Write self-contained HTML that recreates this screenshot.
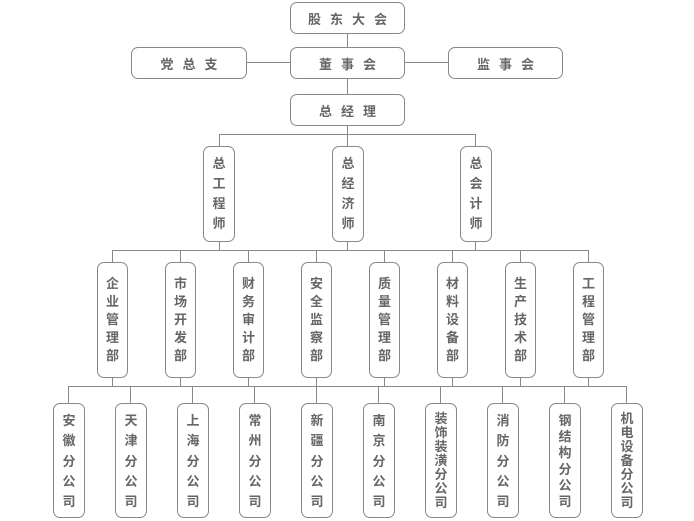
<!DOCTYPE html>
<html><head><meta charset="utf-8"><style>
body{margin:0;width:694px;height:521px;background:#fff;position:relative;overflow:hidden;font-family:"Liberation Sans","Noto Sans CJK SC",sans-serif;color:#666;font-weight:bold;font-size:13px}
.b{position:absolute;border:1.3px solid #888;border-radius:7px;box-sizing:border-box;background:#fff}
.h{display:flex;align-items:center;justify-content:center;letter-spacing:9px;padding-left:9px}
.v{display:flex;flex-direction:column;align-items:center;justify-content:space-between;line-height:14px}
.l{position:absolute;background:#888}
</style></head><body>
<!-- lines -->
<div class="l" style="left:347px;top:33px;width:1.3px;height:61px"></div>
<div class="l" style="left:247px;top:62px;width:44px;height:1.3px"></div>
<div class="l" style="left:405px;top:62px;width:43px;height:1.3px"></div>
<div class="l" style="left:347px;top:125px;width:1.3px;height:9px"></div>
<div class="l" style="left:219px;top:134px;width:257px;height:1.3px"></div>
<div class="l" style="left:219px;top:134px;width:1.3px;height:12px"></div>
<div class="l" style="left:347px;top:134px;width:1.3px;height:12px"></div>
<div class="l" style="left:475px;top:134px;width:1.3px;height:12px"></div>
<div class="l" style="left:219px;top:241px;width:1.3px;height:9px"></div>
<div class="l" style="left:347px;top:241px;width:1.3px;height:9px"></div>
<div class="l" style="left:475px;top:241px;width:1.3px;height:9px"></div>
<div class="l" style="left:112px;top:250px;width:477px;height:1.3px"></div>
<div class="l" style="left:68px;top:386px;width:559px;height:1.3px"></div>
<!-- dept verticals -->
<div class="l" style="left:112px;top:250px;width:1.3px;height:136px"></div>
<div class="l" style="left:180px;top:250px;width:1.3px;height:136px"></div>
<div class="l" style="left:248px;top:250px;width:1.3px;height:136px"></div>
<div class="l" style="left:316px;top:250px;width:1.3px;height:136px"></div>
<div class="l" style="left:384px;top:250px;width:1.3px;height:136px"></div>
<div class="l" style="left:452px;top:250px;width:1.3px;height:136px"></div>
<div class="l" style="left:520px;top:250px;width:1.3px;height:136px"></div>
<div class="l" style="left:588px;top:250px;width:1.3px;height:136px"></div>
<!-- company verticals -->
<div class="l" style="left:68px;top:386px;width:1.3px;height:17px"></div>
<div class="l" style="left:130px;top:386px;width:1.3px;height:17px"></div>
<div class="l" style="left:192px;top:386px;width:1.3px;height:17px"></div>
<div class="l" style="left:254px;top:386px;width:1.3px;height:17px"></div>
<div class="l" style="left:316px;top:386px;width:1.3px;height:17px"></div>
<div class="l" style="left:378px;top:386px;width:1.3px;height:17px"></div>
<div class="l" style="left:440px;top:386px;width:1.3px;height:17px"></div>
<div class="l" style="left:502px;top:386px;width:1.3px;height:17px"></div>
<div class="l" style="left:564px;top:386px;width:1.3px;height:17px"></div>
<div class="l" style="left:626px;top:386px;width:1.3px;height:17px"></div>

<div class="b h" style="left:290px;top:2px;width:115px;height:32px">股东大会</div>
<div class="b h" style="left:131px;top:47px;width:116px;height:32px">党总支</div>
<div class="b h" style="left:290px;top:47px;width:115px;height:32px">董事会</div>
<div class="b h" style="left:448px;top:47px;width:115px;height:32px">监事会</div>
<div class="b h" style="left:290px;top:94px;width:115px;height:32px">总经理</div>

<div class="b v" style="left:203px;top:146px;width:32px;height:96px;padding:10px 0 10px"><span>总</span><span>工</span><span>程</span><span>师</span></div>
<div class="b v" style="left:332px;top:146px;width:32px;height:96px;padding:10px 0 10px"><span>总</span><span>经</span><span>济</span><span>师</span></div>
<div class="b v" style="left:460px;top:146px;width:32px;height:96px;padding:10px 0 10px"><span>总</span><span>会</span><span>计</span><span>师</span></div>

<div class="b v" style="left:97px;top:262px;width:31px;height:116px;padding:14px 0 14px"><span>企</span><span>业</span><span>管</span><span>理</span><span>部</span></div>
<div class="b v" style="left:165px;top:262px;width:31px;height:116px;padding:14px 0 14px"><span>市</span><span>场</span><span>开</span><span>发</span><span>部</span></div>
<div class="b v" style="left:233px;top:262px;width:31px;height:116px;padding:14px 0 14px"><span>财</span><span>务</span><span>审</span><span>计</span><span>部</span></div>
<div class="b v" style="left:301px;top:262px;width:31px;height:116px;padding:14px 0 14px"><span>安</span><span>全</span><span>监</span><span>察</span><span>部</span></div>
<div class="b v" style="left:369px;top:262px;width:31px;height:116px;padding:14px 0 14px"><span>质</span><span>量</span><span>管</span><span>理</span><span>部</span></div>
<div class="b v" style="left:437px;top:262px;width:31px;height:116px;padding:14px 0 14px"><span>材</span><span>料</span><span>设</span><span>备</span><span>部</span></div>
<div class="b v" style="left:505px;top:262px;width:31px;height:116px;padding:14px 0 14px"><span>生</span><span>产</span><span>技</span><span>术</span><span>部</span></div>
<div class="b v" style="left:573px;top:262px;width:31px;height:116px;padding:14px 0 14px"><span>工</span><span>程</span><span>管</span><span>理</span><span>部</span></div>

<div class="b v" style="left:53px;top:403px;width:32px;height:115px;padding:10px 0 8px"><span>安</span><span>徽</span><span>分</span><span>公</span><span>司</span></div>
<div class="b v" style="left:115px;top:403px;width:32px;height:115px;padding:10px 0 8px"><span>天</span><span>津</span><span>分</span><span>公</span><span>司</span></div>
<div class="b v" style="left:177px;top:403px;width:32px;height:115px;padding:10px 0 8px"><span>上</span><span>海</span><span>分</span><span>公</span><span>司</span></div>
<div class="b v" style="left:239px;top:403px;width:32px;height:115px;padding:10px 0 8px"><span>常</span><span>州</span><span>分</span><span>公</span><span>司</span></div>
<div class="b v" style="left:301px;top:403px;width:32px;height:115px;padding:10px 0 8px"><span>新</span><span>疆</span><span>分</span><span>公</span><span>司</span></div>
<div class="b v" style="left:363px;top:403px;width:32px;height:115px;padding:10px 0 8px"><span>南</span><span>京</span><span>分</span><span>公</span><span>司</span></div>
<div class="b v" style="left:425px;top:403px;width:32px;height:115px;padding:8px 0 8px"><span>装</span><span>饰</span><span>装</span><span>潢</span><span>分</span><span>公</span><span>司</span></div>
<div class="b v" style="left:487px;top:403px;width:32px;height:115px;padding:10px 0 8px"><span>消</span><span>防</span><span>分</span><span>公</span><span>司</span></div>
<div class="b v" style="left:549px;top:403px;width:32px;height:115px;padding:10px 0 8px"><span>钢</span><span>结</span><span>构</span><span>分</span><span>公</span><span>司</span></div>
<div class="b v" style="left:611px;top:403px;width:32px;height:115px;padding:8px 0 8px"><span>机</span><span>电</span><span>设</span><span>备</span><span>分</span><span>公</span><span>司</span></div>
</body></html>
